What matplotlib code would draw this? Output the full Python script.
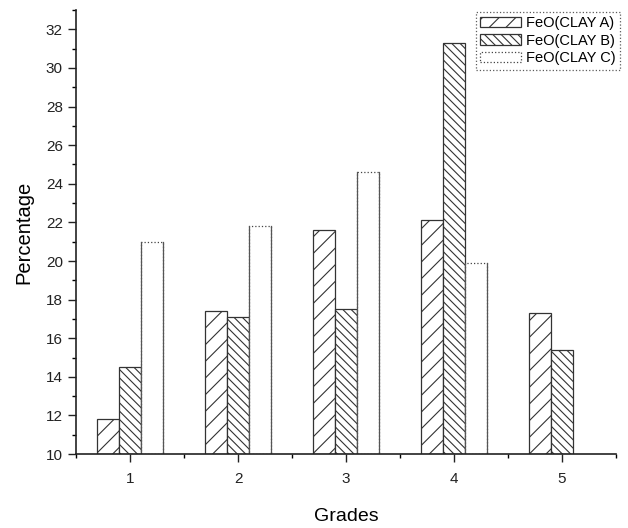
import matplotlib
matplotlib.use("Agg")
import matplotlib.pyplot as plt
import numpy as np
from matplotlib.ticker import MultipleLocator

plt.rcParams['font.family'] = ['Liberation Sans', 'DejaVu Sans']
plt.rcParams['hatch.linewidth'] = 0.8

grades = [1, 2, 3, 4, 5]
clay_a = [11.8, 17.4, 21.6, 22.1, 17.3]
clay_b = [14.5, 17.1, 17.5, 31.3, 15.4]
clay_c = [21.0, 21.8, 24.6, 19.9, np.nan]
labels = ['FeO(CLAY A)', 'FeO(CLAY B)', 'FeO(CLAY C)']

fig = plt.figure(figsize=(6.28, 5.28), dpi=100)
ax = fig.add_axes([0.121, 0.140, 0.860, 0.841])

x = np.array(grades, dtype=float)
w = 0.205
base = 10
ax.bar(x - w, np.array(clay_a) - base, w, bottom=base, facecolor='white',
       edgecolor='#333333', hatch='//', linewidth=0.9, label=labels[0])
ax.bar(x, np.array(clay_b) - base, w, bottom=base, facecolor='white',
       edgecolor='#333333', hatch='\\\\\\\\', linewidth=0.9, label=labels[1])
ax.bar(x + w, np.array(clay_c) - base, w, bottom=base, facecolor='white',
       edgecolor='#444444', linewidth=0.9, linestyle=':', label=labels[2])
# solid sides on the plain bars
for xi, v in zip(x + w, clay_c):
    if not np.isnan(v):
        ax.plot([xi - w / 2, xi - w / 2], [base, v], color='#555555', lw=0.9)
        ax.plot([xi + w / 2, xi + w / 2], [base, v], color='#555555', lw=0.9)

ax.set_xlim(0.5, 5.5)
ax.set_ylim(10, 33)
ax.set_xticks(grades)
ax.xaxis.set_minor_locator(MultipleLocator(0.5))
ax.yaxis.set_major_locator(MultipleLocator(2))
ax.yaxis.set_minor_locator(MultipleLocator(1))
ax.tick_params(axis='both', which='major', direction='out', length=6, width=1,
               labelsize=11, colors='#222222')
ax.tick_params(axis='x', which='major', pad=7)
ax.tick_params(axis='both', which='minor', direction='out', length=3, width=1)

for s in ['top', 'right']:
    ax.spines[s].set_visible(False)
for s in ['left', 'bottom']:
    ax.spines[s].set_linewidth(1.2)
    ax.spines[s].set_color('#222222')

ax.set_xlabel('Grades', fontsize=14, labelpad=16)
ax.set_ylabel('Percentage', fontsize=14.5, labelpad=9)

leg = ax.legend(loc='upper right', bbox_to_anchor=(1.012, 1.003), fontsize=10.5,
                frameon=True, fancybox=False, borderpad=0.3, labelspacing=0.25,
                handlelength=2.8, handletextpad=0.3, borderaxespad=0.2)
frame = leg.get_frame()
frame.set_edgecolor('#333333')
frame.set_linestyle(':')
frame.set_linewidth(0.9)

fig.savefig('out.png', dpi=100)
